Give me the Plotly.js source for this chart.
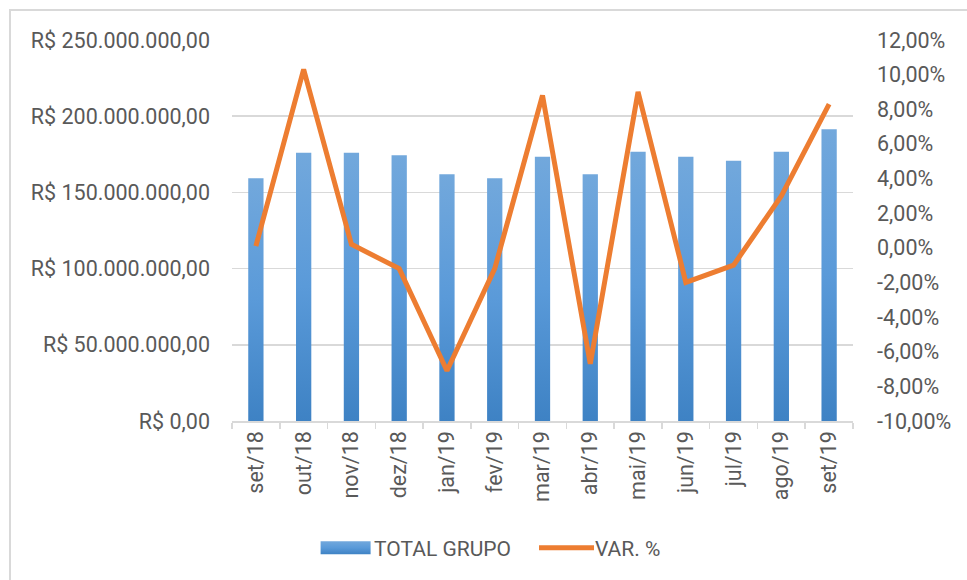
<!DOCTYPE html>
<html><head><meta charset="utf-8">
<script src="https://cdn.plot.ly/plotly-3.0.1.min.js"></script>
<style>
html,body{margin:0;padding:0;background:#fff;overflow:hidden;}
#frame{position:absolute;left:9px;top:9px;width:1000px;height:600px;border-left:2px solid #d9d9d9;border-top:2px solid #d9d9d9;}
#chart{position:absolute;left:0;top:0;width:967px;height:580px;}
</style></head><body>
<div id="frame"></div>
<div id="chart"></div>
<script>
const categories = ['set/18','out/18','nov/18','dez/18','jan/19','fev/19','mar/19','abr/19','mai/19','jun/19','jul/19','ago/19','set/19'];
const totalGrupo = [159300000,176000000,176000000,174300000,161900000,159300000,173400000,161900000,176700000,173400000,170800000,176700000,191400000];
const varPct = [0.1,10.3,0.2,-1.2,-7.1,-1.2,8.8,-6.7,9.0,-2.0,-1.0,3.0,8.3];
const leftTickVals = [0,50000000,100000000,150000000,200000000,250000000];
const leftTickText = ['R$ 0,00','R$ 50.000.000,00','R$ 100.000.000,00','R$ 150.000.000,00','R$ 200.000.000,00','R$ 250.000.000,00'];
const rightTickVals = [-10,-8,-6,-4,-2,0,2,4,6,8,10,12];
const rightTickText = ['-10,00%','-8,00%','-6,00%','-4,00%','-2,00%','0,00%','2,00%','4,00%','6,00%','8,00%','10,00%','12,00%'];

const FONT = 'Roboto, "Open Sans", sans-serif';
const GRAY = '#595959';
const FS = 21.5;

const traces = [
  {type:'bar', name:'TOTAL GRUPO', x:categories, y:totalGrupo, marker:{color:'#5b9bd5'}, hoverinfo:'skip'},
  {type:'scatter', mode:'lines', name:'VAR. %', x:categories, y:varPct, yaxis:'y2', line:{color:'#ed7d31', width:5}, hoverinfo:'skip'}
];

const layout = {
  width:967, height:580,
  margin:{l:232, r:114, t:40, b:159},
  paper_bgcolor:'rgba(0,0,0,0)', plot_bgcolor:'rgba(0,0,0,0)',
  font:{family:FONT, color:GRAY, size:FS},
  bargap:0.68,
  showlegend:true,
  legend:{orientation:'h', xref:'container', yref:'container', x:0.497, y:0.055, xanchor:'center', yanchor:'middle', font:{size:21, color:GRAY, family:FONT}, itemwidth:55, traceorder:'normal', bgcolor:'rgba(0,0,0,0)'},
  xaxis:{type:'category', tickangle:-90, ticks:'outside', tickson:'boundaries', ticklen:6, tickcolor:'#d9d9d9', tickwidth:1.5, showline:true, linecolor:'#d9d9d9', linewidth:1.5, showgrid:false, tickfont:{size:FS, color:GRAY}, fixedrange:true},
  yaxis:{range:[0,250000000], tickvals:leftTickVals, ticktext:leftTickText, showgrid:true, gridcolor:'#d9d9d9', gridwidth:1.5, zeroline:false, showline:false, ticks:'', ticklabelstandoff:21, tickfont:{size:FS, color:GRAY}, fixedrange:true},
  yaxis2:{overlaying:'y', side:'right', range:[-10,12], tickvals:rightTickVals, ticktext:rightTickText, showgrid:false, zeroline:false, showline:false, ticks:'', ticklabelstandoff:23, tickfont:{size:FS, color:GRAY}, fixedrange:true}
};

Plotly.newPlot('chart', traces, layout, {displayModeBar:false, staticPlot:true}).then(function(gd){
  const svg = gd.querySelector('svg.main-svg');
  const ns = 'http://www.w3.org/2000/svg';
  let defs = svg.querySelector('defs');
  if(!defs){ defs = document.createElementNS(ns,'defs'); svg.insertBefore(defs, svg.firstChild); }
  const lg = document.createElementNS(ns,'linearGradient');
  lg.setAttribute('id','barGrad'); lg.setAttribute('x1','0'); lg.setAttribute('y1','0'); lg.setAttribute('x2','0'); lg.setAttribute('y2','1');
  [['0%','#72a8dc'],['50%','#5a9ad9'],['100%','#3e82c4']].forEach(function(s){
    const st = document.createElementNS(ns,'stop'); st.setAttribute('offset',s[0]); st.setAttribute('stop-color',s[1]); lg.appendChild(st);
  });
  defs.appendChild(lg);
  gd.querySelectorAll('.barlayer .point path').forEach(function(p){ p.style.fill = 'url(#barGrad)'; });
  gd.querySelectorAll('.legend .scrollbox, .legend [clip-path]').forEach(function(el){ el.removeAttribute('clip-path'); });
  const items = gd.querySelectorAll('.legend g.traces');
  items.forEach(function(item, i){
    item.querySelectorAll('.legendpoints path').forEach(function(p){
      const d = p.getAttribute('d')||'';
      if(d.indexOf('H')>=0 && d.indexOf('V')>=0){
        p.setAttribute('d','M-21,6.5H29V-6.5H-21Z');
        p.style.fill = 'url(#barGrad)';
        p.style.stroke = 'none';
      }
    });
    if(i === 1){
      const t = item.getAttribute('transform') || '';
      const m = t.match(/translate\(\s*([-\d.]+)[ ,]+([-\d.]+)\s*\)/);
      if(m){ item.setAttribute('transform','translate(' + (parseFloat(m[1]) + 14) + ',' + m[2] + ')'); }
      item.querySelectorAll('.legendlines path').forEach(function(p){ p.setAttribute('transform','translate(4,0)'); });
    }
  });
});
</script>
</body></html>
